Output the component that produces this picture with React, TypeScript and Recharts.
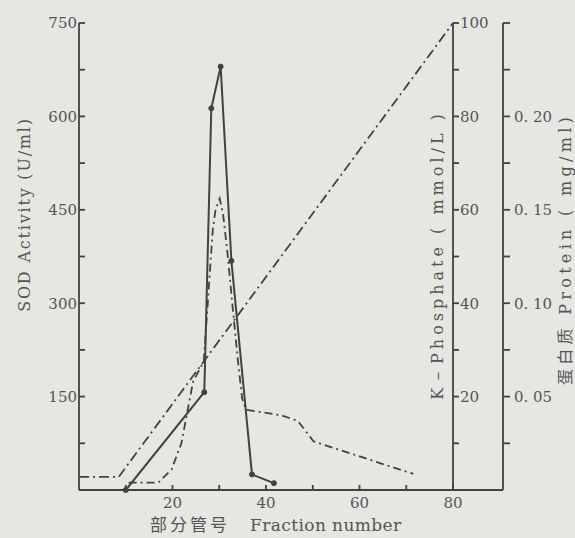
import React from 'react';
import { LineChart, Line, XAxis, YAxis } from 'recharts';

// ---------- data ----------
const sodFraction = [10, 26.8, 28.3, 30.3, 32.6, 37, 41.7];
const sodActivity = [0, 157, 613, 680, 368, 25, 11];

const kFraction = [0, 8.5, 80];
const kPhosphate = [2.8, 2.8, 100];

const proteinFraction = [10.6, 17, 19.8, 21.9, 24.4, 26.7, 28.6, 29.2, 30.1, 30.8, 31.8, 32.9, 34, 34.9, 35.7, 43.2, 46.8, 50.2, 71.5];
const proteinValue = [0.004, 0.004, 0.011, 0.025, 0.058, 0.069, 0.139, 0.15, 0.156, 0.148, 0.126, 0.097, 0.069, 0.049, 0.043, 0.04, 0.037, 0.026, 0.0086];

const xTicks = [10, 20, 30, 40, 50, 60, 70, 80];
const xTickLabels = [20, 40, 60, 80];
const sodTicks = [0, 75, 150, 225, 300, 375, 450, 525, 600, 675, 750];
const sodTickLabels = [150, 300, 450, 600, 750];
const kTicks = [10, 20, 30, 40, 50, 60, 70, 80, 90, 100];
const kTickLabels = [20, 40, 60, 80, 100];
const proteinTicks = [0.025, 0.05, 0.075, 0.1, 0.125, 0.15, 0.175, 0.2, 0.225, 0.25];
const proteinTickValues = [0.05, 0.1, 0.15, 0.2];
const proteinTickTexts = ['0. 05', '0. 10', '0. 15', '0. 20'];

const sodData = sodFraction.map((f, i) => ({ fraction: f, sod: sodActivity[i] }));
const kData = kFraction.map((f, i) => ({ fraction: f, k: kPhosphate[i] }));
const proteinData = proteinFraction.map((f, i) => ({ fraction: f, protein: proteinValue[i] }));

// ---------- style ----------
const W = 575;
const H = 538;
const BG = '#e6e6e2';
const INK = '#424242';
const TXT = '#555555';
const SERIF = '"DejaVu Serif", "Liberation Serif", serif';
const CJK = '"Noto Sans CJK SC", "Noto Sans CJK JP", sans-serif';

const xFormat = (v: number) => (xTickLabels.includes(v) ? String(v) : '');
const sodFormat = (v: number) => (sodTickLabels.includes(v) ? String(v) : '');
const kFormat = (v: number) => (kTickLabels.includes(v) ? String(v) : '');
const proteinFormat = (v: number) => {
  const i = proteinTickValues.findIndex((p) => Math.abs(p - v) < 1e-9);
  return i >= 0 ? proteinTickTexts[i] : '';
};

const LeftTick = (props: any) => {
  const { x, y, payload } = props;
  const v = payload.value;
  const ax = x + 2;
  return (
    <g>
      {v !== 0 && <path d={`M${ax},${y}h6`} stroke={INK} strokeWidth={1.8} fill="none" />}
      <text x={ax - 2} y={y} dy="0.36em" textAnchor="end" fontFamily={SERIF} fontSize={15} fill={TXT}>
        {sodFormat(v)}
      </text>
    </g>
  );
};

const SodLabel = (props: any) => {
  const vb = props.viewBox;
  const cx = vb.x + 5;
  const cy = vb.y + vb.height / 2 - 42;
  return (
    <text x={cx} y={cy} transform={`rotate(-90 ${cx} ${cy})`} textAnchor="middle" dy="0.35em" fontFamily={SERIF} fontSize={16} letterSpacing={1.8} fill={TXT}>
      SOD Activity (U/ml)
    </text>
  );
};

const KLabel = (props: any) => {
  const vb = props.viewBox;
  const cx = vb.x - 16;
  const cy = vb.y + 232;
  return (
    <text x={cx} y={cy} transform={`rotate(-90 ${cx} ${cy})`} textAnchor="middle" dy="0.35em" fontFamily={SERIF} fontSize={16} letterSpacing={4} fill={TXT}>
      K－Phosphate ( mmol/L )
    </text>
  );
};

const ProteinLabel = (props: any) => {
  const vb = props.viewBox;
  const cx = vb.x + 62;
  const cy = vb.y + 226;
  return (
    <text x={cx} y={cy} transform={`rotate(-90 ${cx} ${cy})`} textAnchor="middle" dy="0.35em" fontFamily={SERIF} fontSize={16} letterSpacing={4.3} fill={TXT}>
      <tspan fontFamily={CJK}>蛋白质</tspan>
      <tspan> Protein ( mg/ml)</tspan>
    </text>
  );
};

const XLabel = (props: any) => {
  const vb = props.viewBox;
  const sx = vb.x + 71;
  return (
    <g>
      <path d={`M${vb.x + vb.width},${vb.y}h50`} stroke={INK} strokeWidth={1.8} fill="none" />
      <text x={sx} y={531} textAnchor="start" fill={TXT}>
        <tspan fontFamily={CJK} fontSize={17} letterSpacing={3}>部分管号</tspan>
        <tspan dx={20} fontFamily={SERIF} fontSize={17} letterSpacing={0.4}>Fraction number</tspan>
      </text>
    </g>
  );
};

const tickText = { fontFamily: SERIF, fontSize: 15, fill: TXT };

export default function App() {
  return (
    <div style={{ position: 'absolute', left: 0, top: 0, width: W, height: H, background: BG }}>
      <LineChart width={W} height={H} margin={{ top: 23, right: 22, bottom: 18, left: 19 }}>
        <XAxis
          type="number"
          dataKey="fraction"
          domain={[0, 80]}
          ticks={xTicks}
          allowDataOverflow
          height={30}
          tickSize={-5}
          tickMargin={12}
          tickFormatter={xFormat}
          tick={tickText}
          tickLine={{ stroke: INK, strokeWidth: 1.8 }}
          axisLine={{ stroke: INK, strokeWidth: 1.8 }}
          label={<XLabel />}
        />
        <YAxis
          yAxisId="sod"
          orientation="left"
          domain={[0, 750]}
          ticks={sodTicks}
          width={60}
          tickSize={0}
          tickMargin={2}
          tickLine={false}
          tick={<LeftTick />}
          axisLine={{ stroke: INK, strokeWidth: 1.8 }}
          label={<SodLabel />}
        />
        <YAxis
          yAxisId="k"
          orientation="right"
          domain={[0, 100]}
          ticks={kTicks}
          width={50}
          tickSize={6}
          tickMargin={1}
          tickFormatter={kFormat}
          tick={tickText}
          tickLine={{ stroke: INK, strokeWidth: 1.8 }}
          axisLine={{ stroke: INK, strokeWidth: 1.8 }}
          label={<KLabel />}
        />
        <YAxis
          yAxisId="protein"
          orientation="right"
          domain={[0, 0.25]}
          ticks={proteinTicks}
          width={50}
          tickSize={7}
          tickMargin={4}
          tickFormatter={proteinFormat}
          tick={tickText}
          tickLine={{ stroke: INK, strokeWidth: 1.8 }}
          axisLine={{ stroke: INK, strokeWidth: 1.8 }}
          label={<ProteinLabel />}
        />
        <Line
          yAxisId="k"
          data={kData}
          dataKey="k"
          type="linear"
          stroke={INK}
          strokeWidth={1.8}
          strokeDasharray="10 4 2 4"
          dot={false}
          isAnimationActive={false}
        />
        <Line
          yAxisId="protein"
          data={proteinData}
          dataKey="protein"
          type="linear"
          stroke={INK}
          strokeWidth={1.8}
          strokeDasharray="8 4 2 4"
          dot={false}
          isAnimationActive={false}
        />
        <Line
          yAxisId="sod"
          data={sodData}
          dataKey="sod"
          type="linear"
          stroke={INK}
          strokeWidth={2}
          dot={{ r: 2.5, fill: INK, stroke: INK, strokeWidth: 1 }}
          isAnimationActive={false}
        />
      </LineChart>
    </div>
  );
}
